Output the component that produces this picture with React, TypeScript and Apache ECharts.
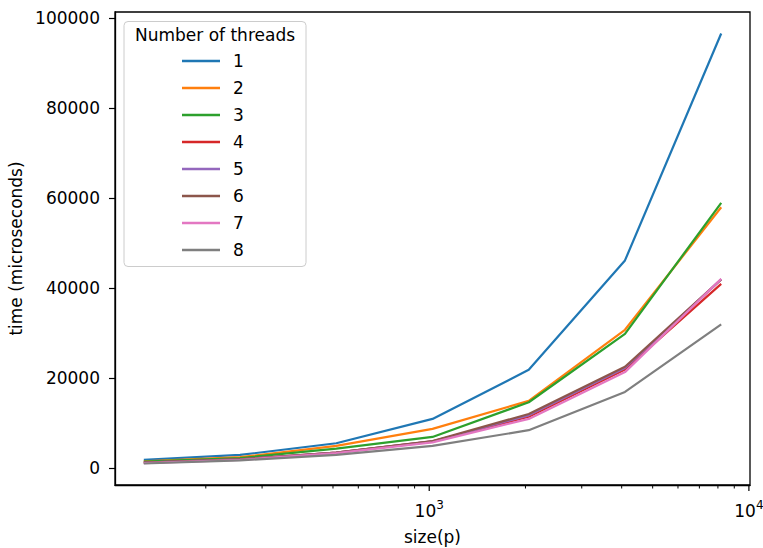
import React, { useEffect, useRef } from "react";
import * as echarts from "echarts";

// ---- data ----
const sizes = [128, 256, 512, 1024, 2048, 4096, 8192];
const threadLabels = ["1", "2", "3", "4", "5", "6", "7", "8"];
const t1 = [1900, 3000, 5600, 11000, 21900, 46200, 96600];
const t2 = [1600, 2500, 5000, 8800, 15000, 30800, 58000];
const t3 = [1500, 2300, 4400, 7000, 14700, 29900, 59000];
const t4 = [1300, 2000, 3500, 6000, 11500, 22000, 41000];
const t5 = [1300, 2000, 3500, 6000, 11800, 22300, 42000];
const t6 = [1300, 2000, 3500, 6100, 12100, 22600, 42000];
const t7 = [1200, 1900, 3400, 5800, 11000, 21400, 42100];
const t8 = [1100, 1800, 3000, 5000, 8500, 17000, 32000];
const seriesValues = [t1, t2, t3, t4, t5, t6, t7, t8];
const yTickValues = [0, 20000, 40000, 60000, 80000, 100000];
const xMajorTicks = [1000, 10000];
const xMinorTicks = [200, 300, 400, 500, 600, 700, 800, 900, 2000, 3000, 4000, 5000, 6000, 7000, 8000, 9000];

const colors = ["#1f77b4", "#ff7f0e", "#2ca02c", "#d62728", "#9467bd", "#8c564b", "#e377c2", "#7f7f7f"];

const X_MIN = 104;
const X_MAX = 10080;
const Y_MIN = -3675;
const Y_MAX = 101375;
const FONT = "DejaVu Sans";

export default function App() {
  const ref = useRef<HTMLDivElement>(null);
  useEffect(() => {
    if (!ref.current) return;
    const chart = echarts.init(ref.current, null, { renderer: "svg" });
    const lineSeries = seriesValues.map((vals, i) => ({
      name: threadLabels[i],
      type: "line",
      data: sizes.map((s, j) => [s, vals[j]]),
      symbol: "none",
      showSymbol: false,
      lineStyle: { width: 2.2, color: colors[i] },
      itemStyle: { color: colors[i] },
      z: 3,
    }));
    const tickData = [...xMajorTicks, ...xMinorTicks].map((v) => [v, Y_MIN]);
    const tickSeries = {
      type: "custom",
      name: "xticks",
      clip: false,
      silent: true,
      z: 5,
      data: tickData,
      renderItem: (params: any, api: any) => {
        const v = api.value(0);
        const p = api.coord([v, Y_MIN]);
        const isMajor = Math.abs(Math.log10(v) - Math.round(Math.log10(v))) < 1e-9;
        const len = isMajor ? 6 : 3.5;
        return {
          type: "line",
          shape: { x1: p[0], y1: p[1], x2: p[0], y2: p[1] + len },
          style: { stroke: "#000", lineWidth: isMajor ? 1.2 : 1 },
        };
      },
    };
    chart.setOption({
      animation: false,
      textStyle: { fontFamily: FONT },
      grid: {
        left: 115,
        right: 13,
        top: 12,
        bottom: 63,
        outerBoundsMode: "none",
        containLabel: false,
        show: true,
        borderColor: "#000",
        borderWidth: 1.3,
        backgroundColor: "transparent",
      },
      xAxis: {
        type: "log",
        logBase: 10,
        min: X_MIN,
        max: X_MAX,
        name: "size(p)",
        nameLocation: "middle",
        nameGap: 43,
        nameTextStyle: { fontFamily: FONT, fontSize: 17, color: "#000" },
        axisLine: { show: true, onZero: false, lineStyle: { color: "#000", width: 1.3 } },
        axisTick: { show: false },
        splitLine: { show: false },
        minorTick: { show: false },
        axisLabel: {
          showMinLabel: false,
          showMaxLabel: false,
          margin: 14,
          color: "#000",
          formatter: (v: number) => `{b|10}{s|${Math.round(Math.log10(v))}}`,
          rich: {
            b: { fontFamily: FONT, fontSize: 17, lineHeight: 20, verticalAlign: "bottom", color: "#000" },
            s: { fontFamily: FONT, fontSize: 12, lineHeight: 12, padding: [0, 0, 8, 0], verticalAlign: "bottom", color: "#000" },
          },
        },
      },
      yAxis: {
        type: "value",
        min: Y_MIN,
        max: Y_MAX,
        name: "time (microseconds)",
        nameLocation: "middle",
        nameGap: 88,
        nameTextStyle: { fontFamily: FONT, fontSize: 17, color: "#000" },
        axisLine: { show: true, onZero: false, lineStyle: { color: "#000", width: 1.3 } },
        axisTick: { show: true, length: 6, lineStyle: { color: "#000", width: 1.2 }, customValues: yTickValues },
        splitLine: { show: false },
        axisLabel: {
          customValues: yTickValues,
          margin: 15,
          fontFamily: FONT,
          fontSize: 17,
          color: "#000",
          formatter: (v: number) => String(Math.round(v)),
        },
      },
      legend: {
        data: threadLabels,
        orient: "vertical",
        left: 182,
        top: 52.5,
        icon: "rect",
        itemWidth: 38,
        itemHeight: 2.4,
        itemGap: 10,
        padding: 0,
        z: 10,
        textStyle: { fontFamily: FONT, fontSize: 17, lineHeight: 17, color: "#000", padding: [0, 0, 0, 8] },
      },
      graphic: [
        {
          type: "rect",
          z: 8,
          shape: { x: 124, y: 21.5, width: 182, height: 245, r: 4 },
          style: { fill: "rgba(255,255,255,0.8)", stroke: "#cccccc", lineWidth: 1 },
        },
        {
          type: "text",
          z: 9,
          x: 215,
          y: 35,
          style: {
            text: "Number of threads",
            fontFamily: FONT,
            fontSize: 17,
            fill: "#000",
            align: "center",
            verticalAlign: "middle",
          },
        },
      ],
      series: [...lineSeries, tickSeries],
    });
    return () => chart.dispose();
  }, []);
  return <div ref={ref} style={{ position: "fixed", left: 0, top: 0, width: 763, height: 548, background: "#fff" }} />;
}
